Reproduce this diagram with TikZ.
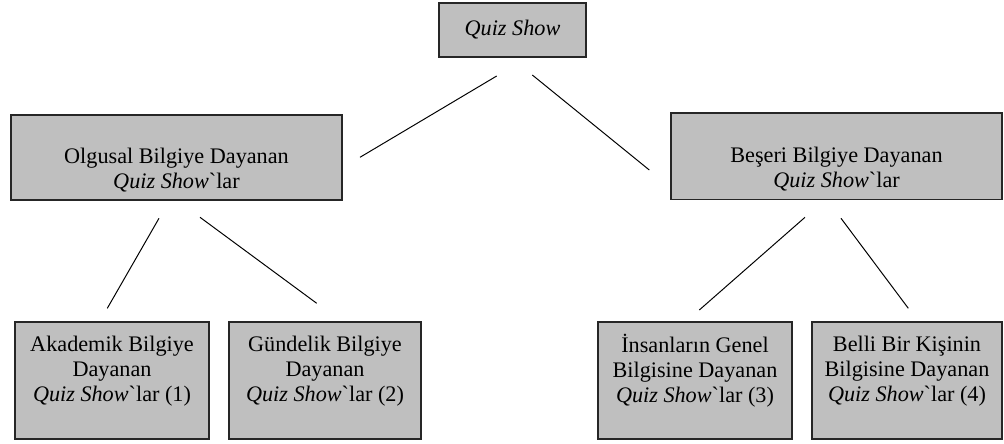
\documentclass[tikz,border=0pt]{standalone}
\usepackage{fontspec}
\setmainfont{Liberation Serif}
\newcommand{\qs}{\textit{Quiz Show}}
\newcommand{\qsl}{\textit{Quiz Show}\textasciigrave lar}
\newcommand{\ust}{\rule{0pt}{29pt}}
\newcommand{\alt}{\rule[-17pt]{0pt}{17pt}}

\begin{document}
\begin{tikzpicture}[x=0.025cm, y=-0.025cm,
  kutu/.style={draw=black!85, fill=black!25, line width=1.3pt, align=center, inner sep=0pt,
    font=\fontsize{15.8}{17.8}\selectfont},
  cizgi/.style={line width=0.7pt}]
\useasboundingbox (0,0) rectangle (1004,444);

\node (Q) at (512.5,30) [kutu, minimum width=3.675cm, minimum height=1.35cm]{\qs};

\node (O) at (176.5,157.5) [kutu, minimum width=8.275cm, minimum height=2.125cm]{\ust Olgusal Bilgiye Dayanan\\ \qsl};
\node (B) at (836.5,156.25) [kutu, minimum width=8.275cm, minimum height=2.16cm]{\ust Beşeri Bilgiye Dayanan\\ \qsl};

\node (O-1) at (112,380.5) [kutu, minimum width=4.85cm, minimum height=2.925cm]{Akademik Bilgiye\\ Dayanan\\ \qsl{} (1)\alt};
\node (O-2) at (325,380.5) [kutu, minimum width=4.8cm, minimum height=2.925cm]{Gündelik Bilgiye\\ Dayanan\\ \qsl{} (2)\alt};

\node (B-1) at (695,380.5) [kutu, minimum width=4.85cm, minimum height=2.925cm]{İnsanların Genel\\ Bilgisine Dayanan\\ \qsl{} (3)\alt};
\node (B-2) at (907,380.5) [kutu, minimum width=4.75cm, minimum height=2.925cm]{Belli Bir Kişinin\\ Bilgisine Dayanan\\ \qsl{} (4)\alt};

% line ends (the lines stop short of the boxes)
\coordinate (Q-a) at (496.7,76);   \coordinate (O-a) at (360,157.3);
\coordinate (Q-b) at (532.3,75);   \coordinate (B-a) at (649.3,170);
\coordinate (O-b) at (159,218.3);  \coordinate (O-1a) at (107.3,308.3);
\coordinate (O-c) at (200,217.3);  \coordinate (O-2a) at (316.7,303.3);
\coordinate (B-b) at (805,217.3);  \coordinate (B-1a) at (699.3,310);
\coordinate (B-c) at (841,218.3);  \coordinate (B-2a) at (908.3,308.3);

\draw [cizgi] (Q-a) -- (O-a);
\draw [cizgi] (Q-b) -- (B-a);
\draw [cizgi] (O-b) -- (O-1a);
\draw [cizgi] (O-c) -- (O-2a);
\draw [cizgi] (B-b) -- (B-1a);
\draw [cizgi] (B-c) -- (B-2a);

\end{tikzpicture}
\end{document}
